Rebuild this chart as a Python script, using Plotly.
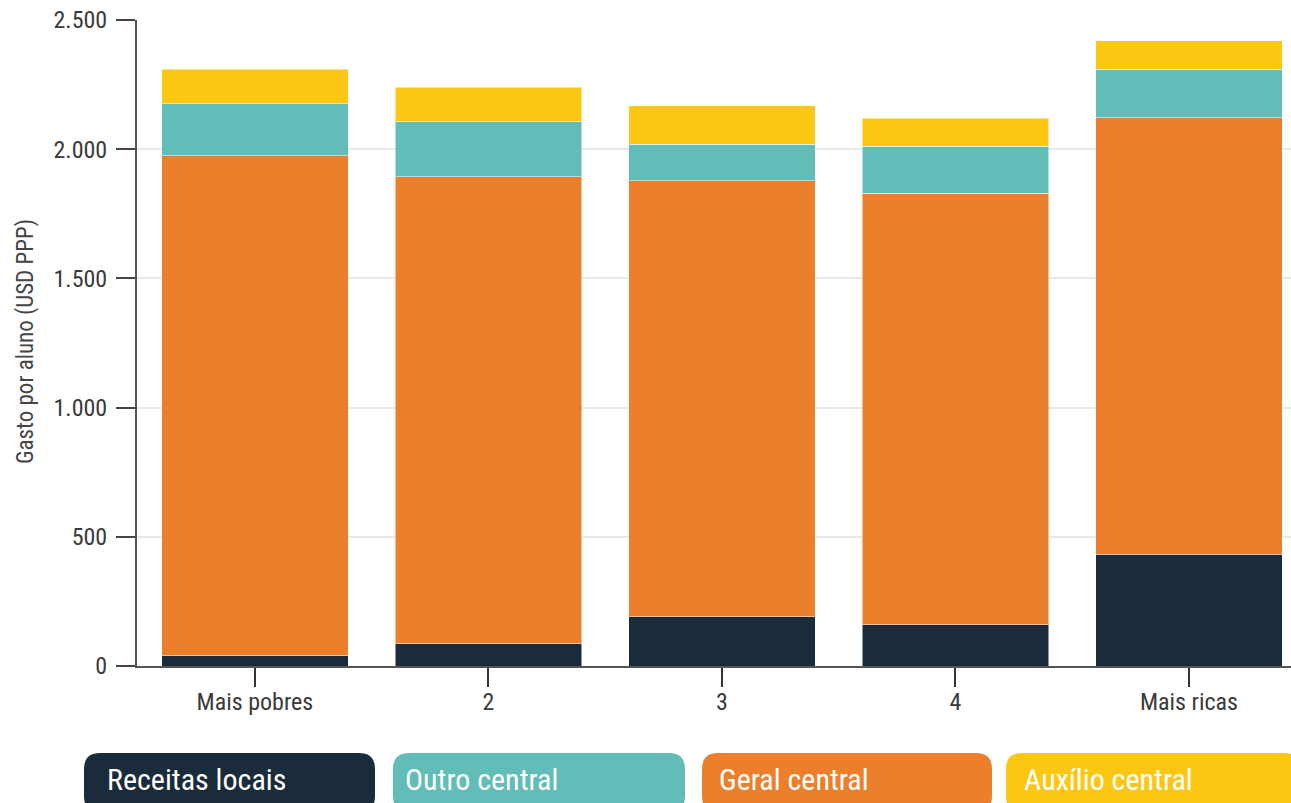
import plotly.graph_objects as go

categories = ["Mais pobres", "2", "3", "4", "Mais ricas"]
series_names = ["Receitas locais", "Geral central", "Outro central", "Auxílio central"]
receitas_locais = [40, 87, 190, 160, 433]
geral_central = [1934, 1807, 1688, 1670, 1689]
outro_central = [201, 212, 141, 182, 188]
auxilio_central = [135, 133, 150, 108, 109]
y_ticks = [0, 500, 1000, 1500, 2000, 2500]

colors = {
    "Receitas locais": "#1a2b3b",
    "Outro central": "#62bdb8",
    "Geral central": "#eb7f2b",
    "Auxílio central": "#fbc713",
}
values = {
    "Receitas locais": receitas_locais,
    "Geral central": geral_central,
    "Outro central": outro_central,
    "Auxílio central": auxilio_central,
}

FONT = "Roboto Condensed, Liberation Sans Narrow, DejaVu Sans Condensed, Roboto, sans-serif"

W, H = 1291, 803
L, R, T, B = 137, 0, 20, 137
PW, PH = W - L - R, H - T - B

fig = go.Figure()
for name in series_names:
    fig.add_trace(go.Bar(
        x=categories, y=values[name], name=name,
        marker=dict(color=colors[name], line=dict(color="rgba(255,255,255,0.5)", width=1)),
        width=0.8,
    ))

def px2paper(px, py):
    return (px - L) / PW, (T + PH - py) / PH

def rounded_path(x0, y0, x1, y1, r):
    def p(x, y):
        a, b = px2paper(x, y)
        return f"{a:.5f},{b:.5f}"
    return (f"M {p(x0 + r, y0)} L {p(x1 - r, y0)} Q {p(x1, y0)} {p(x1, y0 + r)} "
            f"L {p(x1, y1 - r)} Q {p(x1, y1)} {p(x1 - r, y1)} "
            f"L {p(x0 + r, y1)} Q {p(x0, y1)} {p(x0, y1 - r)} "
            f"L {p(x0, y0 + r)} Q {p(x0, y0)} {p(x0 + r, y0)} Z")

legend_order = ["Receitas locais", "Outro central", "Geral central", "Auxílio central"]
legend_boxes = [(84, 375, 105), (393, 685, 403), (702, 992, 717), (1006, 1300, 1022)]
shapes = []
annotations = []
for name, (bx0, bx1, tx) in zip(legend_order, legend_boxes):
    shapes.append(dict(type="path", xref="paper", yref="paper",
                       path=rounded_path(bx0, 753, bx1, 812, 16),
                       fillcolor=colors[name], line=dict(width=0), layer="above"))
    ax, ay = px2paper(tx, 779)
    annotations.append(dict(xref="paper", yref="paper", x=ax, y=ay, xanchor="left", yanchor="middle",
                            text=name, showarrow=False,
                            font=dict(family=FONT, size=30, color="white", weight=400)))

tx_, ty_ = px2paper(25, 342)
annotations.append(dict(xref="paper", yref="paper", x=tx_, y=ty_, xanchor="center", yanchor="middle",
                        text="Gasto por aluno (USD PPP)", textangle=-90, showarrow=False,
                        font=dict(family=FONT, size=23, color="#444444")))

fig.update_layout(
    width=W, height=H,
    margin=dict(l=L, r=R, t=T, b=B, pad=0),
    barmode="stack",
    showlegend=False,
    plot_bgcolor="white", paper_bgcolor="white",
    separators=",.",
    font=dict(family=FONT, color="#3a3a3a"),
    shapes=shapes,
    annotations=annotations,
)
fig.update_xaxes(
    range=[-0.505, 4.437],
    showline=True, linecolor="#555555", linewidth=2,
    ticks="outside", ticklen=19, tickwidth=2, tickcolor="#333333",
    tickfont=dict(family=FONT, size=24, color="#3a3a3a"),
    ticklabelstandoff=-6,
    showgrid=False,
)
fig.update_yaxes(
    range=[0, 2500],
    tickvals=y_ticks, tickformat=",d",
    showline=True, linecolor="#555555", linewidth=2,
    ticks="outside", ticklen=19, tickwidth=2, tickcolor="#444444",
    tickfont=dict(family=FONT, size=24, color="#3a3a3a"),
    ticklabelstandoff=4,
    showgrid=True, gridcolor="#e8e8e8", gridwidth=1.5,
    zeroline=False,
)

fig.write_html("out.html")
